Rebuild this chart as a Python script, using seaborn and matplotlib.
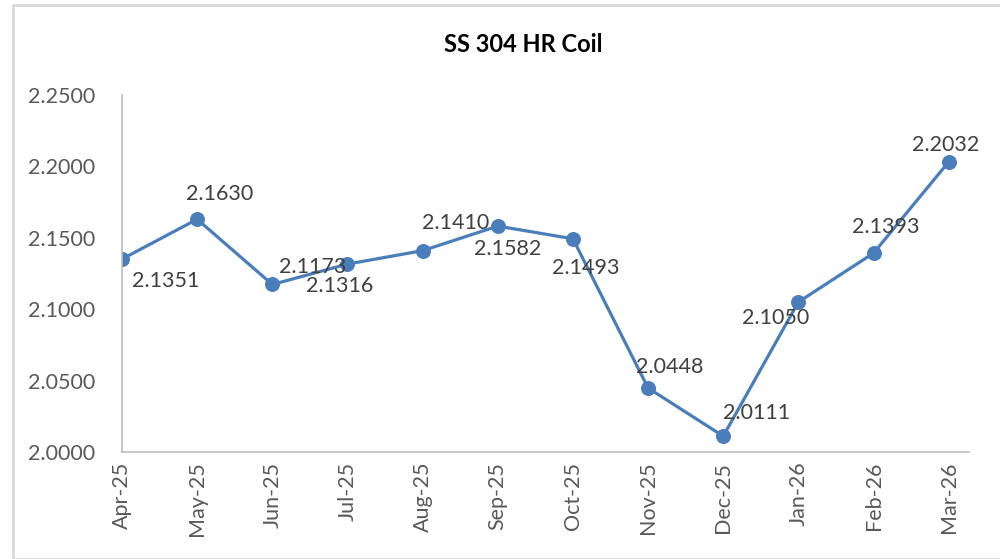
import matplotlib
matplotlib.use("Agg")
import matplotlib.pyplot as plt
import seaborn as sns
import pandas as pd
from matplotlib.patches import Rectangle

months = ["Apr-25", "May-25", "Jun-25", "Jul-25", "Aug-25", "Sep-25",
          "Oct-25", "Nov-25", "Dec-25", "Jan-26", "Feb-26", "Mar-26"]
prices = [2.1351, 2.1630, 2.1173, 2.1316, 2.1410, 2.1582,
          2.1493, 2.0448, 2.0111, 2.1050, 2.1393, 2.2032]
y_ticks = [2.0000, 2.0500, 2.1000, 2.1500, 2.2000, 2.2500]

# label offsets in pixels (dx, dy) from each point, as placed in the original
label_offsets = [(44, -22), (22, 25), (40, 17), (-8, -22), (33, 28), (10, -23),
                 (13, -29), (22, 21), (33, 23), (-23, -16), (12, 26), (-3, 17)]

df = pd.DataFrame({"month": months, "price": prices})
df["pos"] = range(len(df))

sns.set_theme(style="white")
plt.rcParams["font.family"] = ["Lato", "DejaVu Sans"]

fig = plt.figure(figsize=(10, 5.59), dpi=100)
ax = fig.add_axes([0.122, 1 - 452 / 559, 0.969 - 0.122, (452 - 95) / 559])

line_color = "#4A7EBB"
sns.lineplot(data=df, x="pos", y="price", ax=ax, color=line_color,
             linewidth=2.3, marker="o", markersize=10,
             markeredgecolor=line_color, markerfacecolor=line_color)

for i, (p, v) in enumerate(zip(df["pos"], df["price"])):
    dx, dy = label_offsets[i]
    ax.annotate(f"{v:.4f}", (p, v), xytext=(dx, dy), textcoords="offset pixels",
                ha="center", va="center", fontsize=15.5, color="#404040")

ax.set_xlim(0, 11.27)
ax.set_ylim(2.0, 2.25)
ax.set_yticks(y_ticks)
ax.set_yticklabels([f"{t:.4f}" for t in y_ticks], fontsize=15.5, color="#595959")
ax.set_xticks(df["pos"])
ax.set_xticklabels(months, rotation=90, fontsize=15.5, color="#595959")
ax.tick_params(axis="y", length=0, pad=19)
ax.tick_params(axis="x", length=0, pad=7)
ax.set_xlabel("")
ax.set_ylabel("")

for side in ["top", "right"]:
    ax.spines[side].set_visible(False)
for side in ["left", "bottom"]:
    ax.spines[side].set_color("#BFBFBF")
    ax.spines[side].set_linewidth(1.2)

fig.text(0.523, 1 - 45 / 559, "SS 304 HR Coil", ha="center", va="center",
         fontsize=17, fontweight="bold", color="black")

fig.patches.append(Rectangle((13 / 1000, 0), 1.2, 1 - 5 / 559,
                             transform=fig.transFigure, fill=False,
                             edgecolor="#D9D9D9", linewidth=2))

fig.savefig("out.png", dpi=100)
